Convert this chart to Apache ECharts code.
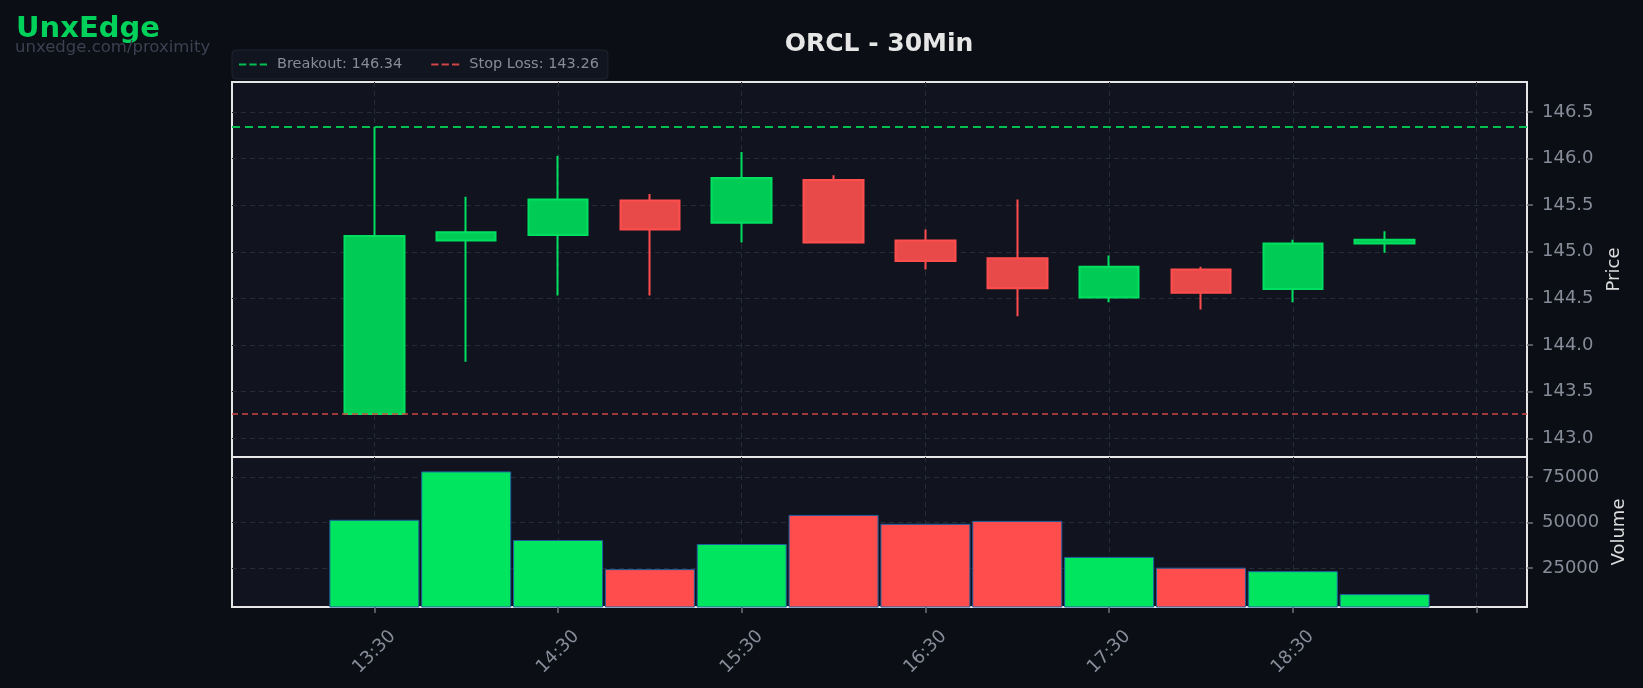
<!DOCTYPE html>
<html>
<head>
<meta charset="utf-8">
<script src="https://cdn.jsdelivr.net/npm/echarts@6/dist/echarts.min.js"></script>
<style>
html,body{margin:0;padding:0;background:#0b0e15;}
#chart{width:1643px;height:688px;}
</style>
</head>
<body>
<div id="chart"></div>
<script>
const times = ['13:30','14:00','14:30','15:00','15:30','16:00','16:30','17:00','17:30','18:00','18:30','19:00'];
const opens  = [143.26, 145.12, 145.18, 145.55, 145.31, 145.77, 145.12, 144.93, 144.51, 144.81, 144.60, 145.09];
const closes = [145.17, 145.21, 145.56, 145.24, 145.79, 145.10, 144.90, 144.61, 144.84, 144.56, 145.09, 145.13];
const lows   = [143.26, 143.82, 144.53, 144.53, 145.10, 145.10, 144.81, 144.31, 144.46, 144.38, 144.46, 144.99];
const highs  = [146.34, 145.59, 146.03, 145.62, 146.07, 145.82, 145.24, 145.56, 144.96, 144.84, 145.13, 145.22];
const volumes = [51500, 78100, 40400, 24400, 38200, 54200, 49300, 50900, 31100, 25200, 23300, 10700];

const xTickIndex = [0, 2, 4, 6, 8, 10, 12];
const xTickLabels = ['13:30', '14:30', '15:30', '16:30', '17:30', '18:30', ''];
const priceTicks = [143.0, 143.5, 144.0, 144.5, 145.0, 145.5, 146.0, 146.5];
const volumeTicks = [25000, 50000, 75000];

const breakout = 146.34;
const stopLoss = 143.26;

const GREEN = '#00cc55', GREEN_EDGE = '#00e060';
const RED = '#e84a4a', RED_EDGE = '#ff4d4d';
const VOL_GREEN = '#00e560', VOL_RED = '#ff4d4d';
const GRID_LINE = '#262b38';
const LABEL = '#868c98';

const candleData = times.map((t, i) => [i, opens[i], closes[i], lows[i], highs[i]]);
const volData = times.map((t, i) => ({
  value: [i, volumes[i]],
  itemStyle: { color: closes[i] >= opens[i] ? VOL_GREEN : VOL_RED }
}));

const chart = echarts.init(document.getElementById('chart'), null, { renderer: 'canvas' });

const splitLineStyle = { show: true, lineStyle: { color: GRID_LINE, type: [5, 4], width: 1 } };
const FONT = '"DejaVu Sans", sans-serif';

function xAxisCfg(gridIndex, showLabels) {
  return {
    type: 'value', gridIndex: gridIndex, min: -1.55, max: 12.55,
    axisLine: { show: false, onZero: false },
    axisTick: { show: showLabels, customValues: xTickIndex, length: 6, lineStyle: { color: '#6c717c', width: 1.5 } },
    axisLabel: {
      show: showLabels, customValues: xTickIndex,
      formatter: v => { const k = xTickIndex.indexOf(Math.round(v)); return k >= 0 ? xTickLabels[k] : ''; },
      rotate: 45, align: 'center', verticalAlign: 'middle', margin: 45,
      color: LABEL, fontSize: 18, fontFamily: FONT
    },
    splitLine: splitLineStyle
  };
}

function yAxisCfg(gridIndex, min, max, ticks, name, fmt) {
  return {
    type: 'value', gridIndex: gridIndex, position: 'right', min: min, max: max,
    axisLine: { show: false, onZero: false },
    axisTick: { show: true, customValues: ticks, length: 6, lineStyle: { color: '#6c717c', width: 1.5 } },
    axisLabel: { customValues: ticks, formatter: fmt, color: LABEL, fontSize: 18, fontFamily: FONT, margin: 15 },
    splitLine: splitLineStyle,
    name: name, nameLocation: 'middle', nameGap: 78,
    nameTextStyle: { color: '#dcdcdc', fontSize: 18, fontFamily: FONT }
  };
}

const dashIcon3 = 'path://M0 0H7V2H0Z M10 0H17V2H10Z M20 0H27V2H20Z';

chart.setOption({
  backgroundColor: '#0b0e15',
  animation: false,
  textStyle: { fontFamily: FONT },
  graphic: [
    { type: 'text', x: 16, y: 29, style: { text: 'UnxEdge', fill: '#00d15a', font: 'bold 29px "DejaVu Sans"', textVerticalAlign: 'middle' } },
    { type: 'text', x: 15, y: 48, style: { text: 'unxedge.com/proximity', fill: '#3b4150', font: '16.5px "DejaVu Sans"', textVerticalAlign: 'middle' } },
    { type: 'text', x: 879, y: 44, style: { text: 'ORCL - 30Min', fill: '#e6e6e6', font: 'bold 25px "DejaVu Sans"', textAlign: 'center', textVerticalAlign: 'middle' } }
  ],
  legend: {
    left: 232, top: 50,
    backgroundColor: '#111520', borderColor: '#1f2430', borderWidth: 1, borderRadius: 4,
    padding: [7, 9, 7, 7], itemGap: 29, itemWidth: 28, itemHeight: 3,
    textStyle: { color: LABEL, fontSize: 14.5, fontFamily: FONT, padding: [0, 0, 0, 5] },
    data: [
      { name: 'Breakout: 146.34', icon: dashIcon3 },
      { name: 'Stop Loss: 143.26', icon: dashIcon3 }
    ]
  },
  grid: [
    { left: 232, right: 116, top: 82, height: 375, show: true, backgroundColor: '#11141e', borderColor: '#e6e6e6', borderWidth: 2 },
    { left: 232, right: 116, top: 457, height: 150, show: true, backgroundColor: '#11141e', borderColor: '#e6e6e6', borderWidth: 2 }
  ],
  xAxis: [ xAxisCfg(0, false), xAxisCfg(1, true) ],
  yAxis: [
    yAxisCfg(0, 142.8, 146.82, priceTicks, 'Price', v => v.toFixed(1)),
    yAxisCfg(1, 3600, 86000, volumeTicks, 'Volume', v => String(v))
  ],
  series: [
    {
      type: 'bar', xAxisIndex: 1, yAxisIndex: 1, data: volData, barWidth: 90, clip: true,
      itemStyle: { borderColor: '#1f5f9f', borderWidth: 1 }
    },
    {
      type: 'candlestick', xAxisIndex: 0, yAxisIndex: 0, data: candleData,
      encode: { x: 0, y: [1, 2, 3, 4] }, barWidth: 60,
      itemStyle: { color: GREEN, color0: RED, borderColor: GREEN_EDGE, borderColor0: RED_EDGE, borderWidth: 2 }
    },
    {
      type: 'line', name: 'Breakout: 146.34', xAxisIndex: 0, yAxisIndex: 0, data: [],
      color: '#00c050',
      markLine: { silent: true, symbol: ['none', 'none'], label: { show: false },
        lineStyle: { color: '#00c050', type: [8, 5], width: 2 }, data: [{ yAxis: breakout }] }
    },
    {
      type: 'line', name: 'Stop Loss: 143.26', xAxisIndex: 0, yAxisIndex: 0, data: [],
      color: '#d04545',
      markLine: { silent: true, symbol: ['none', 'none'], label: { show: false },
        lineStyle: { color: '#d04545', type: [6, 4], width: 1.5 }, data: [{ yAxis: stopLoss }] }
    }
  ]
});
</script>
</body>
</html>
